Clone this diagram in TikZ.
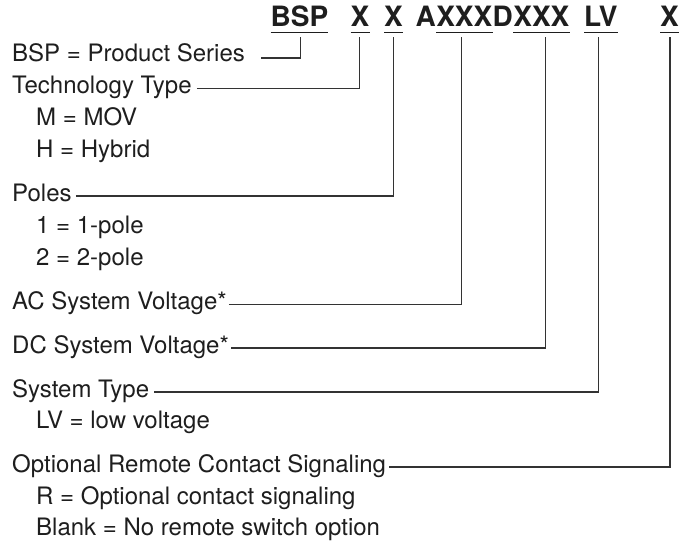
\documentclass[tikz,border=0pt]{standalone}
\usepackage{fontspec}
\setmainfont{TeX Gyre Heros}
\definecolor{ink}{HTML}{1E1E1E}
\definecolor{wire}{HTML}{333333}
\begin{document}
\begin{tikzpicture}[x=1pt,y=-1pt,
  lbl/.style={anchor=base west, inner sep=0pt, font=\fontsize{24}{28}\selectfont, text=ink},
  hdr/.style={anchor=base west, inner sep=0pt, font=\fontsize{28}{32}\selectfont\bfseries, text=ink},
  conn/.style={draw=wire, line width=1.1pt},
  uline/.style={draw=ink, line width=1.5pt}]
\useasboundingbox[fill=white] (0,0) rectangle (691,546);

% header code
\node[hdr] (hBSP) at (270.5,26.7) {BSP};
\node[hdr] (hX1) at (350.5,26.7) {X};
\node[hdr] (hX2) at (384,26.7) {X};
\node[hdr] (hA) at (415.5,26.7) {A};
\node[hdr] (hAC) at (hA.base east) {XXX};
\node[hdr] (hD) at (hAC.base east) {D};
\node[hdr] (hDC) at (hD.base east) {XXX};
\node[hdr] (hLV) at (584,26.7) {LV};
\node[hdr] (hR) at (660,26.7) {X};

\foreach \n in {hBSP,hX1,hX2,hAC,hDC,hLV,hR}{
  \draw[uline] ([yshift=-5.6pt]\n.base west) -- ([yshift=-5.6pt]\n.base east);
}

% tops of the vertical connectors (just under the underlines)
\coordinate (tBSP) at (300.7,36.7);
\coordinate (tX1)  at (359.3,36.7);
\coordinate (tX2)  at (393.3,36.7);
\coordinate (tAC)  at (461.7,36.7);
\coordinate (tDC)  at (545.7,36.7);
\coordinate (tLV)  at (598.3,36.7);
\coordinate (tR)   at (670.0,36.7);

% labels
\node[lbl] (lBSP)  at (12,61.5)  {BSP = Product Series};
\node[lbl] (lTech) at (12,93.5)  {Technology Type};
\node[lbl] (lM)    at (36,125)   {M = MOV};
\node[lbl] (lH)    at (36,157)   {H = Hybrid};
\node[lbl] (lPoles) at (12,201)  {Poles};
\node[lbl] (lOne)  at (36,233)   {1 = 1-pole};
\node[lbl] (lTwo)  at (36,265)   {2 = 2-pole};
\node[lbl] (lAC)   at (12,309.5) {AC System Voltage*};
\node[lbl] (lDC)   at (12,353)   {DC System Voltage*};
\node[lbl] (lST)   at (12,397)   {System Type};
\node[lbl] (lLV)   at (36,428.5) {LV = low voltage};
\node[lbl] (lOpt)  at (12,472)   {Optional Remote Contact Signaling};
\node[lbl] (lRopt) at (36,504)   {R = Optional contact signaling};
\node[lbl] (lBlank) at (36,535.5) {Blank = No remote switch option};

% connectors
\draw[conn] ([xshift=16pt,yshift=3.5pt]lBSP.base east) -| (tBSP);
\draw[conn] ([xshift=5pt,yshift=5pt]lTech.base east) -| (tX1);
\draw[conn] ([xshift=4pt,yshift=5pt]lPoles.base east) -| (tX2);
\draw[conn] ([xshift=2pt,yshift=5pt]lAC.base east) -| (tAC);
\draw[conn] ([xshift=2pt,yshift=5pt]lDC.base east) -| (tDC);
\draw[conn] ([xshift=5pt,yshift=5pt]lST.base east) -| (tLV);
\draw[conn] ([xshift=3pt,yshift=5pt]lOpt.base east) -| (tR);
\end{tikzpicture}
\end{document}
